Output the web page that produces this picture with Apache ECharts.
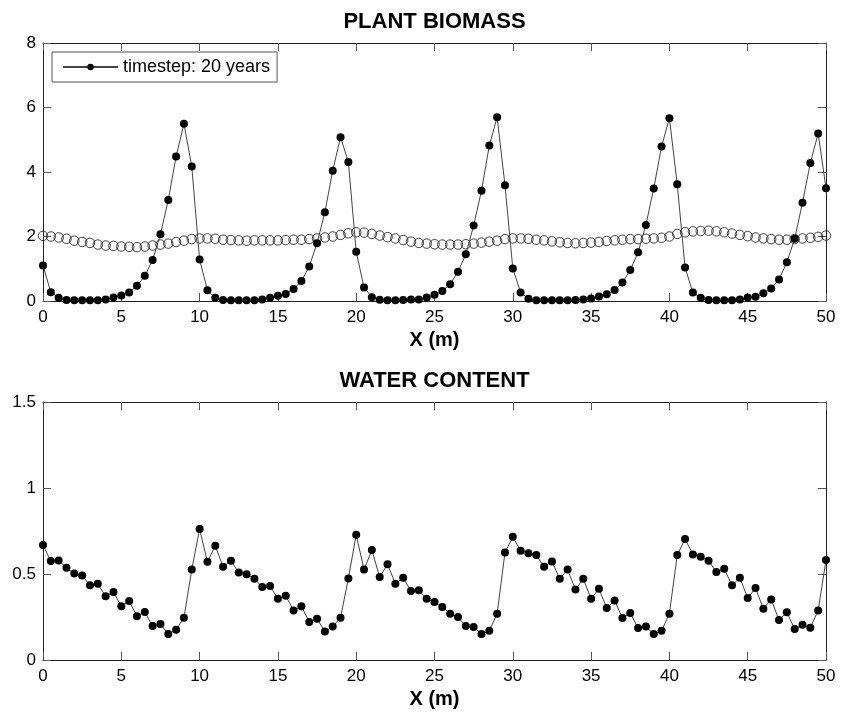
<!DOCTYPE html>
<html>
<head>
<meta charset="utf-8">
<script src="https://cdn.jsdelivr.net/npm/echarts@6/dist/echarts.min.js"></script>
<style>
  html, body { margin: 0; padding: 0; background: #fff; }
  #chart { width: 841px; height: 713px; }
</style>
</head>
<body>
<div id="chart"></div>
<script>
// Sample positions along the transect (m)
const xPositions = [
  0, 0.5, 1, 1.5, 2, 2.5, 3, 3.5, 4, 4.5,
  5, 5.5, 6, 6.5, 7, 7.5, 8, 8.5, 9, 9.5,
  10, 10.5, 11, 11.5, 12, 12.5, 13, 13.5, 14, 14.5,
  15, 15.5, 16, 16.5, 17, 17.5, 18, 18.5, 19, 19.5,
  20, 20.5, 21, 21.5, 22, 22.5, 23, 23.5, 24, 24.5,
  25, 25.5, 26, 26.5, 27, 27.5, 28, 28.5, 29, 29.5,
  30, 30.5, 31, 31.5, 32, 32.5, 33, 33.5, 34, 34.5,
  35, 35.5, 36, 36.5, 37, 37.5, 38, 38.5, 39, 39.5,
  40, 40.5, 41, 41.5, 42, 42.5, 43, 43.5, 44, 44.5,
  45, 45.5, 46, 46.5, 47, 47.5, 48, 48.5, 49, 49.5,
  50
];

// Plant biomass after a 20-year timestep
const biomassStep = [
  1.10, 0.27, 0.10, 0.03, 0.02, 0.02, 0.02, 0.02, 0.05, 0.11,
  0.17, 0.26, 0.47, 0.78, 1.27, 2.07, 3.13, 4.48, 5.50, 4.17,
  1.29, 0.33, 0.10, 0.03, 0.02, 0.02, 0.02, 0.02, 0.05, 0.10,
  0.16, 0.22, 0.37, 0.62, 1.07, 1.79, 2.75, 4.04, 5.08, 4.31,
  1.53, 0.42, 0.12, 0.04, 0.02, 0.02, 0.03, 0.05, 0.05, 0.11,
  0.19, 0.31, 0.52, 0.91, 1.45, 2.34, 3.42, 4.82, 5.70, 3.59,
  1.01, 0.26, 0.07, 0.02, 0.02, 0.02, 0.02, 0.02, 0.03, 0.05,
  0.08, 0.14, 0.21, 0.34, 0.57, 0.96, 1.51, 2.36, 3.49, 4.79,
  5.67, 3.62, 1.04, 0.26, 0.10, 0.03, 0.02, 0.02, 0.02, 0.05,
  0.11, 0.13, 0.24, 0.39, 0.67, 1.20, 1.93, 3.05, 4.28, 5.19,
  3.50
];

// Initial (reference) plant biomass
const biomassInitial = [
  2.02, 2.00, 1.97, 1.93, 1.87, 1.83, 1.80, 1.75, 1.72, 1.71,
  1.69, 1.68, 1.67, 1.69, 1.72, 1.75, 1.78, 1.83, 1.87, 1.92,
  1.94, 1.94, 1.93, 1.90, 1.89, 1.88, 1.87, 1.88, 1.88, 1.88,
  1.88, 1.89, 1.90, 1.90, 1.92, 1.94, 1.97, 2.00, 2.05, 2.10,
  2.13, 2.12, 2.08, 2.03, 1.98, 1.94, 1.89, 1.84, 1.80, 1.78,
  1.76, 1.75, 1.75, 1.75, 1.76, 1.78, 1.81, 1.84, 1.87, 1.92,
  1.94, 1.94, 1.93, 1.90, 1.88, 1.85, 1.82, 1.80, 1.79, 1.80,
  1.81, 1.83, 1.86, 1.88, 1.90, 1.92, 1.92, 1.93, 1.94, 1.96,
  2.00, 2.08, 2.13, 2.16, 2.17, 2.18, 2.16, 2.13, 2.09, 2.05,
  2.01, 1.97, 1.94, 1.92, 1.90, 1.90, 1.92, 1.94, 1.96, 1.99,
  2.03
];

// Soil water content after the timestep
const waterContent = [
  0.668, 0.575, 0.579, 0.536, 0.503, 0.492, 0.434, 0.443, 0.370, 0.395,
  0.312, 0.343, 0.255, 0.279, 0.197, 0.209, 0.151, 0.176, 0.246, 0.526,
  0.761, 0.571, 0.664, 0.542, 0.577, 0.509, 0.499, 0.472, 0.424, 0.430,
  0.356, 0.374, 0.288, 0.312, 0.221, 0.240, 0.165, 0.195, 0.246, 0.474,
  0.728, 0.526, 0.639, 0.482, 0.557, 0.443, 0.478, 0.401, 0.406, 0.356,
  0.337, 0.308, 0.269, 0.250, 0.197, 0.192, 0.151, 0.170, 0.269, 0.625,
  0.716, 0.635, 0.621, 0.610, 0.542, 0.573, 0.472, 0.526, 0.410, 0.472,
  0.356, 0.414, 0.302, 0.346, 0.244, 0.273, 0.186, 0.195, 0.151, 0.170,
  0.269, 0.610, 0.703, 0.614, 0.600, 0.577, 0.511, 0.530, 0.434, 0.478,
  0.360, 0.418, 0.298, 0.352, 0.232, 0.277, 0.180, 0.205, 0.188, 0.288,
  0.581
];

const legendLabel = 'timestep: 20 years';
const panelTitles = ['PLANT BIOMASS', 'WATER CONTENT'];
const xAxisLabel = 'X (m)';

const pairs = (ys) => xPositions.map((x, i) => [x, ys[i]]);

const FONT = 'Liberation Sans, Arial, Helvetica, sans-serif';
const AXIS_COLOR = '#222';
const TICK_COLOR = '#555';

const grids = [
  { left: 43, top: 43, width: 783, height: 258 },
  { left: 43, top: 402, width: 783, height: 258 }
];

function xAxisPair(gridIndex) {
  return [
    {
      gridIndex, type: 'value', position: 'bottom', min: 0, max: 50, interval: 5,
      name: xAxisLabel, nameLocation: 'middle', nameGap: 29,
      nameTextStyle: { fontFamily: FONT, fontWeight: 'bold', fontSize: 20, color: '#000' },
      axisLine: { show: true, onZero: false, lineStyle: { color: AXIS_COLOR, width: 1 } },
      axisTick: { show: true, inside: true, length: 8, lineStyle: { color: TICK_COLOR } },
      axisLabel: { show: true, margin: 8, fontFamily: FONT, fontSize: 17, color: '#000' },
      splitLine: { show: false }
    },
    {
      gridIndex, type: 'value', position: 'top', min: 0, max: 50, interval: 5,
      axisLine: { show: true, onZero: false, lineStyle: { color: AXIS_COLOR, width: 1 } },
      axisTick: { show: true, inside: true, length: 8, lineStyle: { color: TICK_COLOR } },
      axisLabel: { show: false },
      splitLine: { show: false }
    }
  ];
}

function yAxisPair(gridIndex, max, interval) {
  return [
    {
      gridIndex, type: 'value', position: 'left', min: 0, max, interval,
      axisLine: { show: true, onZero: false, lineStyle: { color: AXIS_COLOR, width: 1 } },
      axisTick: { show: true, inside: true, length: 8, lineStyle: { color: TICK_COLOR } },
      axisLabel: { show: true, margin: 7, fontFamily: FONT, fontSize: 17, color: '#000' },
      splitLine: { show: false }
    },
    {
      gridIndex, type: 'value', position: 'right', min: 0, max, interval,
      axisLine: { show: true, onZero: false, lineStyle: { color: AXIS_COLOR, width: 1 } },
      axisTick: { show: true, inside: true, length: 8, lineStyle: { color: TICK_COLOR } },
      axisLabel: { show: false },
      splitLine: { show: false }
    }
  ];
}

const chart = echarts.init(document.getElementById('chart'), null, { renderer: 'canvas' });

chart.setOption({
  animation: false,
  backgroundColor: '#fff',
  grid: grids,
  xAxis: [...xAxisPair(0), ...xAxisPair(1)],
  yAxis: [...yAxisPair(0, 8, 2), ...yAxisPair(1, 1.5, 0.5)],
  graphic: [
    {
      type: 'text', x: 434.5, y: 22,
      style: { text: panelTitles[0], textAlign: 'center', textVerticalAlign: 'middle',
               font: 'bold 22px ' + FONT, fill: '#000' }
    },
    {
      type: 'text', x: 434.5, y: 381,
      style: { text: panelTitles[1], textAlign: 'center', textVerticalAlign: 'middle',
               font: 'bold 22px ' + FONT, fill: '#000' }
    }
  ],
  legend: {
    data: [legendLabel],
    left: 52, top: 52,
    orient: 'horizontal',
    padding: [6, 7, 6, 10],
    itemWidth: 55, itemHeight: 8,
    itemGap: 4,
    borderColor: '#555', borderWidth: 1,
    backgroundColor: '#fff',
    selectedMode: false,
    textStyle: { fontFamily: FONT, fontSize: 18, color: '#000' }
  },
  series: [
    {
      name: 'initial',
      type: 'scatter',
      xAxisIndex: 0, yAxisIndex: 0,
      data: pairs(biomassInitial),
      symbol: 'circle', symbolSize: 9.5,
      itemStyle: { color: 'transparent', borderColor: '#111', borderWidth: 1 },
      z: 2
    },
    {
      name: legendLabel,
      type: 'line',
      xAxisIndex: 0, yAxisIndex: 0,
      data: pairs(biomassStep),
      symbol: 'circle', symbolSize: 8, showSymbol: true,
      lineStyle: { color: '#444', width: 1 },
      itemStyle: { color: '#000', borderWidth: 0 },
      z: 3
    },
    {
      name: 'water',
      type: 'line',
      xAxisIndex: 2, yAxisIndex: 2,
      data: pairs(waterContent),
      symbol: 'circle', symbolSize: 8, showSymbol: true,
      lineStyle: { color: '#444', width: 1 },
      itemStyle: { color: '#000', borderWidth: 0 },
      z: 3
    }
  ]
});
</script>
</body>
</html>
